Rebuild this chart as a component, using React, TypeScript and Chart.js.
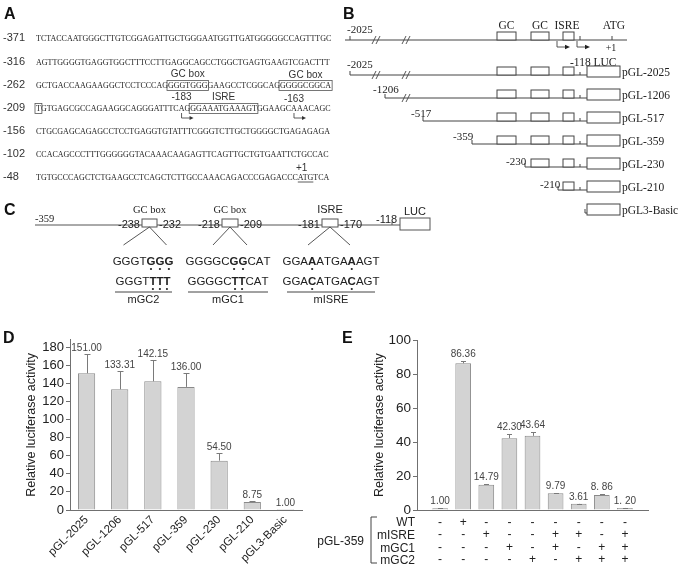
import React, { useEffect, useRef } from 'react';
import { Chart, registerables } from 'chart.js';

Chart.register(...registerables);

const SANS = "'Liberation Sans', Arial, sans-serif";
const SERIF = "'Liberation Serif', 'Times New Roman', serif";

// ---------------- Panel D data ----------------
const dCategories = ['pGL-2025', 'pGL-1206', 'pGL-517', 'pGL-359', 'pGL-230', 'pGL-210', 'pGL3-Basic'];
const dValues = [151.0, 133.31, 142.15, 136.0, 54.5, 8.75, 1.0];
const dErrors = [21, 20, 23, 15, 8, 1, 0];
const dValueLabels = ['151.00', '133.31', '142.15', '136.00', '54.50', '8.75', '1.00'];
const dYTicks = [0, 20, 40, 60, 80, 100, 120, 140, 160, 180];
const dYTitle = 'Relative luciferase activity';

// ---------------- Panel E data ----------------
const ePositions = [1, 2, 3, 4, 5, 6, 7, 8, 9];
const eValues = [1.0, 86.36, 14.79, 42.3, 43.64, 9.79, 3.61, 8.86, 1.2];
const eErrors = [0.1, 1.5, 0.5, 2.2, 2.5, 0.2, 0.2, 0.5, 0.2];
const eValueLabels = ['1.00', '86.36', '14.79', '42.30', '43.64', '9.79', '3.61', '8. 86', '1. 20'];
const eYTicks = [0, 20, 40, 60, 80, 100];
const eRowNames = ['WT', 'mISRE', 'mGC1', 'mGC2'];
const eWT = ['-', '+', '-', '-', '-', '-', '-', '-', '-'];
const eMISRE = ['-', '-', '+', '-', '-', '+', '+', '-', '+'];
const eMGC1 = ['-', '-', '-', '+', '-', '+', '-', '+', '+'];
const eMGC2 = ['-', '-', '-', '-', '+', '-', '+', '+', '+'];
const eConstruct = 'pGL-359';

// ---------------- Panel A data ----------------
const aRowNumbers = ['-371', '-316', '-262', '-209', '-156', '-102', '-48'];
const aSequences = [
  'TCTACCAATGGGCTTGTCGGAGATTGCTGGGAATGGTTGATGGGGGCCAGTTTGC',
  'AGTTGGGGTGAGGTGGCTTTCCTTGAGGCAGCCTGGCTGAGTGAAGTCGACTTT',
  'GCTGACCAAGAAGGCTCCTCCCAGGGGTGGGGAAGCCTCGGCAGGGGGCGGCA',
  'TGTGAGCGCCAGAAGGCAGGGATTTCAGGGAAATGAAAGTGGAAGCAAACAGC',
  'CTGCGAGCAGAGCCTCCTGAGGTGTATTTCGGGTCTTGCTGGGGCTGAGAGAGA',
  'CCACAGCCCTTTGGGGGGTACAAACAAGAGTTCAGTTGCTGTGAATTCTGCCAC',
  'TGTGCCCAGCTCTGAAGCCTCAGCTCTTGCCAAACAGACCCGAGACCCATGTCA',
];

// ---------------- Panel B data ----------------
const bConstructs = ['pGL-2025', 'pGL-1206', 'pGL-517', 'pGL-359', 'pGL-230', 'pGL-210', 'pGL3-Basic'];
const bStarts = ['-2025', '-1206', '-517', '-359', '-230', '-210', ''];

// ---------------- Panel C data ----------------
const cWild = ['GGGTGGG', 'GGGGCGGCAT', 'GGAAATGAAAGT'];
const cMut = ['GGGTTTT', 'GGGGCTTCAT', 'GGACATGACAGT'];
const cBold = [[4, 5, 6], [5, 6], [3, 8]];
const cMutNames = ['mGC2', 'mGC1', 'mISRE'];
const cSiteNames = ['GC box', 'GC box', 'ISRE'];
const cSiteStart = ['-238', '-218', '-181'];
const cSiteEnd = ['-232', '-209', '-170'];

let _mctx: CanvasRenderingContext2D | null = null;
function measure(text: string, font: string): number {
  if (!_mctx) _mctx = document.createElement('canvas').getContext('2d');
  _mctx!.font = font;
  return _mctx!.measureText(text).width;
}

const errorBarPlugin = {
  id: 'errorBars',
  afterDatasetsDraw(chart: any, _args: any, opts: any) {
    if (!opts || !opts.errors) return;
    const { ctx } = chart;
    const ys = chart.scales.y;
    const meta = chart.getDatasetMeta(0);
    ctx.save();
    meta.data.forEach((bar: any, i: number) => {
      const v = opts.values[i];
      const e = opts.errors[i];
      const x = Math.round(bar.x) + 0.5;
      const yv = ys.getPixelForValue(v);
      const yt = Math.round(ys.getPixelForValue(v + e)) + 0.5;
      if (e > 0) {
        ctx.strokeStyle = opts.color;
        ctx.lineWidth = 1;
        ctx.beginPath();
        ctx.moveTo(x, yv);
        ctx.lineTo(x, yt);
        ctx.moveTo(x - opts.cap, yt);
        ctx.lineTo(x + opts.cap, yt);
        ctx.stroke();
      }
      ctx.fillStyle = opts.textColor;
      ctx.font = opts.font;
      ctx.textAlign = 'center';
      ctx.textBaseline = 'alphabetic';
      ctx.fillText(opts.labels[i], bar.x, yt - opts.gap);
    });
    ctx.restore();
  },
};

const AXIS = '#707070';
const TICK_COLOR = '#222';

function PanelA() {
  const x0 = 36;
  const seqFont = `8px ${SERIF}`;
  const ys = [38, 62, 85, 108, 131, 154, 177];
  const base = (r: number) => ys[r] + 3;
  const xi = (r: number, i: number) => x0 + measure(aSequences[r].slice(0, i), seqFont);
  const xc = (r: number, i: number) => (xi(r, i) + xi(r, i + 1)) / 2;
  const els: any[] = [];
  aSequences.forEach((s, r) => {
    els.push(
      <text key={'n' + r} x={3} y={base(r)} fontFamily={SANS} fontSize={11} fill="#333">
        {aRowNumbers[r]}
      </text>
    );
    els.push(
      <text key={'s' + r} x={x0} y={base(r)} fontFamily={SERIF} fontSize={8} fill="#222">
        {s}
      </text>
    );
  });
  const boxes = [
    [2, 24, 31],
    [2, 44, 53],
    [3, 0, 1],
    [3, 28, 40],
  ];
  boxes.forEach(([r, s, e], k) => {
    const xa = xi(r, s) - 1;
    const xb = xi(r, e) + 1;
    els.push(
      <rect key={'b' + k} x={xa} y={base(r) - 7.5} width={xb - xa} height={10} fill="none" stroke="#555" strokeWidth={0.8} />
    );
  });
  const lab = (key: string, text: string, x: number, y: number) => (
    <text key={key} x={x} y={y} fontFamily={SANS} fontSize={10} fill="#333" textAnchor="middle">
      {text}
    </text>
  );
  els.push(lab('gc1', 'GC box', (xi(2, 24) + xi(2, 31)) / 2, base(2) - 11));
  els.push(lab('gc2', 'GC box', (xi(2, 44) + xi(2, 53)) / 2, base(2) - 10));
  els.push(lab('m183', '-183', xc(3, 26), base(3) - 11));
  els.push(lab('isre', 'ISRE', (xi(3, 28) + xi(3, 40)) / 2, base(3) - 11));
  els.push(lab('m163', '-163', xc(3, 46), base(3) - 9));
  [26, 46].forEach((i, k) => {
    const x = xc(3, i);
    const y1 = base(3) + 2;
    const y2 = base(3) + 7;
    els.push(
      <path key={'ar' + k} d={`M${x} ${y1} L${x} ${y2} L${x + 9} ${y2}`} fill="none" stroke="#333" strokeWidth={0.8} />
    );
    els.push(<path key={'ah' + k} d={`M${x + 12} ${y2} L${x + 8} ${y2 - 2} L${x + 8} ${y2 + 2} Z`} fill="#333" />);
  });
  const atgA = xi(6, 48);
  const atgB = xi(6, 51);
  els.push(<line key="atg" x1={atgA} x2={atgB} y1={base(6) + 2} y2={base(6) + 2} stroke="#333" strokeWidth={0.8} />);
  els.push(lab('p1', '+1', xc(6, 48) + 1, base(6) - 9));
  return <g>{els}</g>;
}

function breakMark(key: string, x: number, y: number) {
  return (
    <path
      key={key}
      d={`M${x - 4} ${y + 4} L${x} ${y - 4} M${x} ${y + 4} L${x + 4} ${y - 4}`}
      stroke="#444"
      strokeWidth={0.9}
      fill="none"
    />
  );
}

function PanelB() {
  const stroke = '#444';
  const topY = 40;
  const rowsY = [75, 98, 121, 144, 167, 190, 213];
  const startX = [350, 385, 423, 472, 525, 558, 585];
  const labelX = [347, 373, 411, 453, 506, 540, 0];
  const labelDy = [-7, -5, -4, -4, -2, -2, 0];
  const gc1 = [497, 516];
  const gc2 = [531, 549];
  const isre = [563, 574];
  const luc = [587, 620];
  const els: any[] = [];
  const t = (key: string, text: string, x: number, y: number, size: number, anchor = 'start') => (
    <text key={key} x={x} y={y} fontFamily={SERIF} fontSize={size} fill="#222" textAnchor={anchor}>
      {text}
    </text>
  );
  els.push(<line key="tl" x1={345} x2={627} y1={topY} y2={topY} stroke={stroke} strokeWidth={1} />);
  els.push(<line key="tt" x1={350} x2={350} y1={topY - 4} y2={topY} stroke={stroke} strokeWidth={1} />);
  els.push(t('t2025', '-2025', 347, 33, 11));
  els.push(breakMark('tb1', 376, topY));
  els.push(breakMark('tb2', 406, topY));
  [gc1, gc2, isre].forEach((b, k) => {
    els.push(<rect key={'tbx' + k} x={b[0]} y={topY - 8} width={b[1] - b[0]} height={8} fill="#fff" stroke={stroke} strokeWidth={1} />);
  });
  els.push(t('tgc1', 'GC', (gc1[0] + gc1[1]) / 2, 29, 11.5, 'middle'));
  els.push(t('tgc2', 'GC', (gc2[0] + gc2[1]) / 2, 29, 11.5, 'middle'));
  els.push(t('tisre', 'ISRE', 567, 29, 11.5, 'middle'));
  els.push(t('tatg', 'ATG', 614, 29, 11.5, 'middle'));
  els.push(<line key="tk1" x1={580} x2={580} y1={topY - 4} y2={topY} stroke={stroke} strokeWidth={1} />);
  els.push(<line key="tk2" x1={612} x2={612} y1={topY - 4} y2={topY} stroke={stroke} strokeWidth={1} />);
  [557, 577].forEach((x, k) => {
    const y2 = topY + 7;
    els.push(<path key={'tar' + k} d={`M${x} ${topY + 1} L${x} ${y2} L${x + 9} ${y2}`} fill="none" stroke={stroke} strokeWidth={0.9} />);
    els.push(<path key={'tah' + k} d={`M${x + 13} ${y2} L${x + 8} ${y2 - 2.2} L${x + 8} ${y2 + 2.2} Z`} fill="#222" />);
  });
  els.push(t('tp1', '+1', 611, 51, 10, 'middle'));
  els.push(t('t118', '-118 LUC', 570, 66, 11.5));

  rowsY.forEach((y, r) => {
    const sx = startX[r];
    els.push(<line key={'rl' + r} x1={sx} x2={luc[0]} y1={y} y2={y} stroke={stroke} strokeWidth={1} />);
    els.push(<line key={'rt' + r} x1={sx} x2={sx} y1={y - 4} y2={y} stroke={stroke} strokeWidth={1} />);
    if (r < 6) els.push(<line key={'rk' + r} x1={580} x2={580} y1={y - 3} y2={y} stroke={stroke} strokeWidth={1} />);
    if (bStarts[r]) els.push(t('rs' + r, bStarts[r], labelX[r], y + labelDy[r], 11));
    if (r === 0) {
      els.push(breakMark('rb1', 376, y));
      els.push(breakMark('rb2', 406, y));
    }
    if (r === 1) els.push(breakMark('rb3', 406, y));
    [gc1, gc2, isre].forEach((b, k) => {
      if (sx < b[0]) {
        els.push(<rect key={'rbx' + r + k} x={b[0]} y={y - 8} width={b[1] - b[0]} height={8} fill="#fff" stroke={stroke} strokeWidth={1} />);
      }
    });
    els.push(<rect key={'luc' + r} x={luc[0]} y={y - 9} width={luc[1] - luc[0]} height={11} fill="#fff" stroke={stroke} strokeWidth={1} />);
    els.push(t('rn' + r, bConstructs[r], 622, y + 1, 11.5));
  });
  return <g>{els}</g>;
}

function SeqLine(props: { seq: string; bold: number[]; cx: number; y: number; dotY: number; k: string }) {
  const { seq, bold, cx, y, dotY, k } = props;
  const size = 11.5;
  const nf = `${size}px ${SANS}`;
  const bf = `bold ${size}px ${SANS}`;
  const widths = seq.split('').map((c, i) => measure(c, bold.includes(i) ? bf : nf));
  const total = widths.reduce((a, b) => a + b, 0);
  let x = cx - total / 2;
  const els: any[] = [];
  seq.split('').forEach((c, i) => {
    const b = bold.includes(i);
    els.push(
      <text key={k + 'c' + i} x={x} y={y} fontFamily={SANS} fontSize={size} fontWeight={b ? 'bold' : 'normal'} fill="#222">
        {c}
      </text>
    );
    if (b) els.push(<circle key={k + 'd' + i} cx={x + widths[i] / 2} cy={dotY} r={1.1} fill="#222" />);
    x += widths[i];
  });
  return <g>{els}</g>;
}

function PanelC() {
  const stroke = '#555';
  const ly = 225;
  const boxes = [
    [142, 157],
    [222, 238],
    [322, 338],
  ];
  const seqCx = [143, 228, 331];
  const under = [
    [115, 172],
    [188, 268],
    [287, 375],
  ];
  const els: any[] = [];
  els.push(<line key="cl" x1={35} x2={400} y1={ly} y2={ly} stroke={stroke} strokeWidth={1} />);
  els.push(
    <text key="c359" x={35} y={222} fontFamily={SERIF} fontSize={10.5} fill="#222">
      -359
    </text>
  );
  boxes.forEach((b, k) => {
    const cx = (b[0] + b[1]) / 2;
    els.push(<rect key={'cb' + k} x={b[0]} y={ly - 6} width={b[1] - b[0]} height={8} fill="#fff" stroke={stroke} strokeWidth={1} />);
    els.push(
      <text
        key={'cn' + k}
        x={cx}
        y={213}
        fontFamily={k < 2 ? SERIF : SANS}
        fontSize={k < 2 ? 10.5 : 11}
        fill="#222"
        textAnchor="middle"
      >
        {cSiteNames[k]}
      </text>
    );
    els.push(
      <text key={'cs' + k} x={b[0] - 2} y={ly + 3} fontFamily={SANS} fontSize={11} fill="#222" textAnchor="end">
        {cSiteStart[k]}
      </text>
    );
    els.push(
      <text key={'ce' + k} x={b[1] + 2} y={ly + 3} fontFamily={SANS} fontSize={11} fill="#222">
        {cSiteEnd[k]}
      </text>
    );
    const dx = k === 0 ? [-26, 17] : k === 1 ? [-17, 17] : [-22, 20];
    els.push(
      <path
        key={'cd' + k}
        d={`M${cx} ${ly + 2} L${cx + dx[0]} ${ly + 20} M${cx} ${ly + 2} L${cx + dx[1]} ${ly + 20}`}
        stroke="#444"
        strokeWidth={0.9}
        fill="none"
      />
    );
    els.push(<SeqLine key={'sw' + k} k={'sw' + k} seq={cWild[k]} bold={cBold[k]} cx={seqCx[k]} y={265} dotY={269} />);
    els.push(<SeqLine key={'sm' + k} k={'sm' + k} seq={cMut[k]} bold={cBold[k]} cx={seqCx[k]} y={285} dotY={289} />);
    els.push(<line key={'cu' + k} x1={under[k][0]} x2={under[k][1]} y1={292} y2={292} stroke="#444" strokeWidth={1} />);
    els.push(
      <text key={'cm' + k} x={(under[k][0] + under[k][1]) / 2} y={303} fontFamily={SANS} fontSize={11} fill="#222" textAnchor="middle">
        {cMutNames[k]}
      </text>
    );
  });
  els.push(
    <text key="c118" x={376} y={223} fontFamily={SANS} fontSize={11} fill="#222">
      -118
    </text>
  );
  els.push(<line key="c118t" x1={392} x2={392} y1={ly - 3} y2={ly} stroke={stroke} strokeWidth={1} />);
  els.push(<rect key="cluc" x={400} y={ly - 7} width={30} height={12} fill="#fff" stroke={stroke} strokeWidth={1} />);
  els.push(
    <text key="clucl" x={415} y={215} fontFamily={SANS} fontSize={11} fill="#222" textAnchor="middle">
      LUC
    </text>
  );
  return <g>{els}</g>;
}

function PanelELabels() {
  const rowsY = [522, 535, 547.5, 560];
  const els: any[] = [];
  eRowNames.forEach((n, i) => {
    els.push(
      <text key={'en' + i} x={415} y={rowsY[i] + 4} fontFamily={SANS} fontSize={12} fill="#222" textAnchor="end">
        {n}
      </text>
    );
  });
  els.push(
    <path key="brk" d="M377 517 L371 517 L371 563 L377 563" fill="none" stroke="#444" strokeWidth={1} />
  );
  els.push(
    <text key="ec" x={364} y={545} fontFamily={SANS} fontSize={12} fill="#222" textAnchor="end">
      {eConstruct}
    </text>
  );
  return <g>{els}</g>;
}

function Letter(props: { t: string; x: number; y: number }) {
  return (
    <text x={props.x} y={props.y} fontFamily={SANS} fontSize={16} fontWeight="bold" fill="#111">
      {props.t}
    </text>
  );
}

export default function App() {
  const dRef = useRef<HTMLCanvasElement>(null);
  const eRef = useRef<HTMLCanvasElement>(null);

  useEffect(() => {
    const tickFont = { family: SANS, size: 13 };
    const dChart = new Chart(dRef.current!, {
      type: 'bar',
      data: {
        labels: dCategories,
        datasets: [
          {
            data: dValues,
            backgroundColor: '#d3d3d3',
            borderColor: '#8a8a8a',
            borderWidth: 1,
            barPercentage: 0.52,
            categoryPercentage: 1,
          },
        ],
      },
      options: {
        responsive: false,
        animation: false,
        devicePixelRatio: 1,
        layout: { padding: { left: 0, top: 7, right: 38, bottom: 0 } },
        plugins: {
          legend: { display: false },
          tooltip: { enabled: false },
          errorBars: {
            values: dValues,
            errors: dErrors,
            labels: dValueLabels,
            color: '#7a7a7a',
            textColor: '#444',
            font: `10px ${SANS}`,
            cap: 3,
            gap: 4,
          },
        } as any,
        scales: {
          x: {
            grid: { display: false, drawTicks: false },
            border: { display: true, color: AXIS },
            ticks: {
              autoSkip: false,
              minRotation: 45,
              maxRotation: 45,
              padding: 3,
              color: TICK_COLOR,
              font: { family: SANS, size: 11.5 },
            },
            afterFit: (s: any) => {
              s.height = 58;
            },
          },
          y: {
            min: 0,
            max: 188,
            afterBuildTicks: (s: any) => {
              s.ticks = dYTicks.map((v) => ({ value: v }));
            },
            grid: { display: true, drawOnChartArea: false, drawTicks: true, tickLength: 4, color: AXIS },
            border: { display: true, color: AXIS },
            ticks: { padding: 2, color: TICK_COLOR, font: tickFont },
            title: {
              display: true,
              text: dYTitle,
              color: TICK_COLOR,
              font: { family: SANS, size: 12.5 },
              padding: { top: 24, bottom: 0 },
            },
            afterFit: (s: any) => {
              s.width = 70;
            },
          },
        },
      } as any,
      plugins: [errorBarPlugin as any],
    });

    const eChart = new Chart(eRef.current!, {
      type: 'bar',
      data: {
        datasets: [
          {
            data: eValues.map((v, i) => ({ x: ePositions[i], y: v })),
            backgroundColor: '#d3d3d3',
            borderColor: '#8a8a8a',
            borderWidth: 1,
            barPercentage: 0.68,
            categoryPercentage: 1,
          },
        ],
      },
      options: {
        responsive: false,
        animation: false,
        devicePixelRatio: 1,
        layout: { padding: { left: 0, top: 7, right: 35, bottom: 0 } },
        plugins: {
          legend: { display: false },
          tooltip: { enabled: false },
          errorBars: {
            values: eValues,
            errors: eErrors,
            labels: eValueLabels,
            color: '#7a7a7a',
            textColor: '#444',
            font: `10px ${SANS}`,
            cap: 2.5,
            gap: 5,
          },
        } as any,
        scales: {
          x: {
            type: 'linear',
            min: 0,
            max: 10,
            offset: false,
            afterBuildTicks: (s: any) => {
              s.ticks = ePositions.map((v) => ({ value: v }));
            },
            grid: { display: false, drawTicks: false, offset: false },
            border: { display: true, color: AXIS },
            ticks: {
              autoSkip: false,
              maxRotation: 0,
              minRotation: 0,
              padding: 6,
              color: TICK_COLOR,
              font: { family: SANS, size: 12, lineHeight: 1.05 },
              callback: (_v: any, i: number) => [eWT[i], eMISRE[i], eMGC1[i], eMGC2[i]],
            },
            afterFit: (s: any) => {
              s.height = 58;
            },
          },
          y: {
            min: 0,
            max: 100,
            afterBuildTicks: (s: any) => {
              s.ticks = eYTicks.map((v) => ({ value: v }));
            },
            grid: { display: true, drawOnChartArea: false, drawTicks: true, tickLength: 4, color: AXIS },
            border: { display: true, color: AXIS },
            ticks: { padding: 2, color: TICK_COLOR, font: { family: SANS, size: 13.5 } },
            title: {
              display: true,
              text: dYTitle,
              color: TICK_COLOR,
              font: { family: SANS, size: 12.5 },
              padding: { top: 32, bottom: 0 },
            },
            afterFit: (s: any) => {
              s.width = 77;
            },
          },
        },
      } as any,
      plugins: [errorBarPlugin as any],
    });

    return () => {
      dChart.destroy();
      eChart.destroy();
    };
  }, []);

  return (
    <div
      style={{
        position: 'absolute',
        left: 0,
        top: 0,
        width: 683,
        height: 568,
        background: '#fff',
        overflow: 'hidden',
      }}
    >
      <canvas ref={dRef} width={340} height={238} style={{ position: 'absolute', left: 0, top: 330, width: 340, height: 238 }} />
      <canvas ref={eRef} width={343} height={238} style={{ position: 'absolute', left: 340, top: 330, width: 343, height: 238 }} />
      <svg width={683} height={568} style={{ position: 'absolute', left: 0, top: 0, pointerEvents: 'none' }}>
        <Letter t="A" x={4} y={19} />
        <Letter t="B" x={343} y={19} />
        <Letter t="C" x={4} y={215} />
        <Letter t="D" x={3} y={343} />
        <Letter t="E" x={342} y={343} />
        <PanelA />
        <PanelB />
        <PanelC />
        <PanelELabels />
      </svg>
    </div>
  );
}
